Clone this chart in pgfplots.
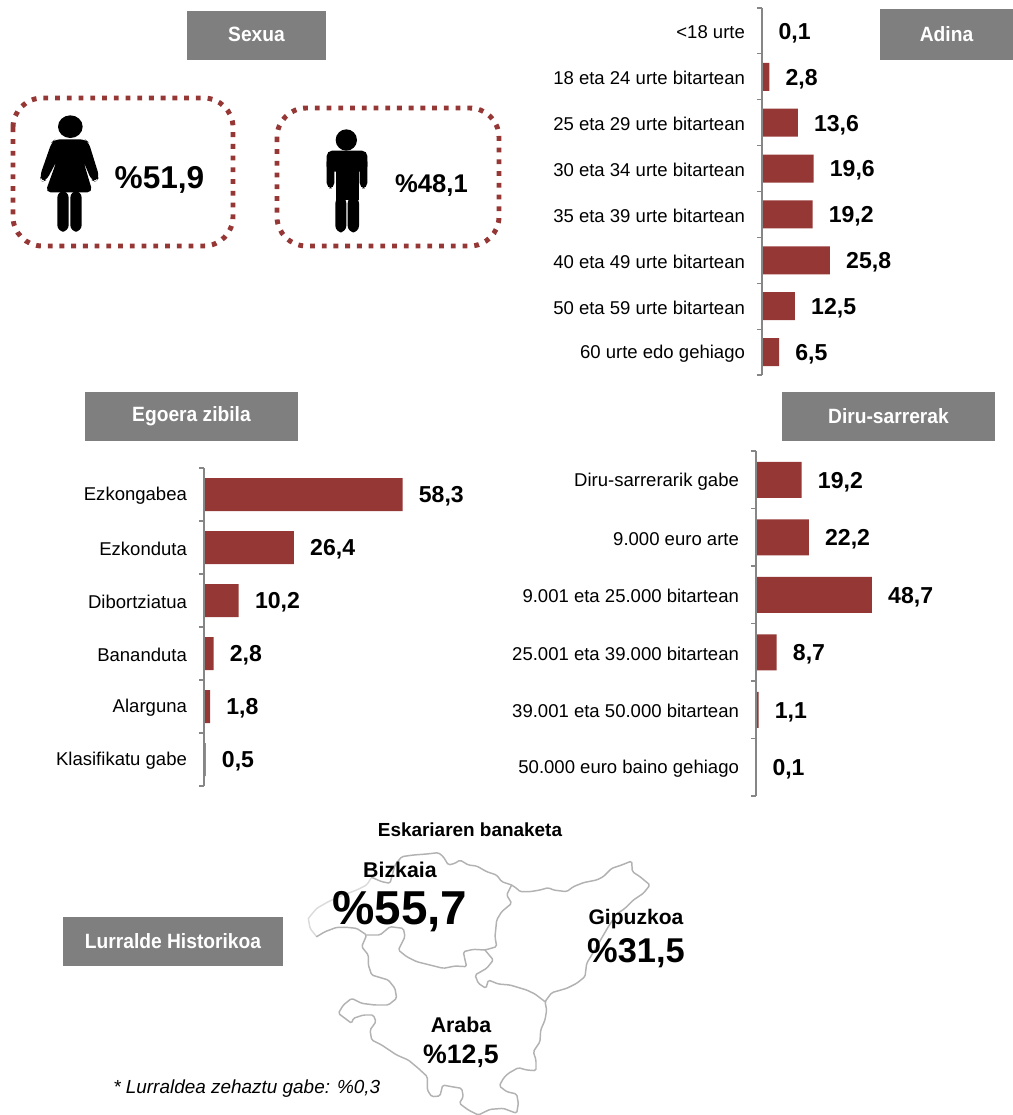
\documentclass[border=0pt]{standalone}
\usepackage{fontspec}
\setmainfont{Liberation Sans}
\usepackage{pgfplots}
\pgfplotsset{compat=1.18}
\definecolor{barred}{HTML}{953735}
\definecolor{boxgray}{HTML}{7F7F7F}
\definecolor{axgray}{HTML}{868686}
\newcommand{\fs}[1]{\fontsize{#1}{#1}\selectfont}
\pgfplotsset{
 /pgf/number format/assume math mode=true,
 hb/.style={
  xbar, bar shift=0pt, scale only axis, clip=false, axis on top,
  y dir=reverse, xmin=0, anchor=north west,
  hide x axis, axis y line*=left,
  y axis line style={axgray,line width=1.1pt,-},
  major tick length=0pt, minor tick length=3.8pt, tick align=outside,
  minor tick style={axgray,line width=0.9pt},
  y tick label style={font=\fs{13.9}, inner sep=0pt, xshift=-12.6pt, yshift=-1.1pt, anchor=east},
  nodes near coords,
  every node near coord/.append style={font=\bfseries\fs{17.3}, black, inner sep=0pt, xshift=12pt, yshift=-1.6pt, anchor=west,
    /pgf/number format/fixed, /pgf/number format/fixed zerofill, /pgf/number format/precision=1, /pgf/number format/use comma},
 }
}
\tikzset{
 dotbox/.style={draw=barred, line width=3.7pt, rounded corners=22pt, dash pattern=on 3.6pt off 5.2pt},
 mapl/.style={draw=black!30, line width=1.1pt, line join=round, line cap=round, rounded corners=1.2pt},
}
\newcommand{\gbox}[5]{% x1 y1 x2 y2 text
 \fill[boxgray] ({#1*0.75pt},{-#2*0.75pt}) rectangle ({#3*0.75pt},{-#4*0.75pt});
 \node[text=white,font=\bfseries\fs{15.5},anchor=center,inner sep=0pt,xscale=0.93] at ({(#1+#3)/2*0.75pt},{-(#2+#4)/2*0.75pt+0.6pt}) {#5};}
\begin{document}
\begin{tikzpicture}
\useasboundingbox (0,0) rectangle (759.75pt,-836.25pt);
% title boxes
\gbox{187}{11}{326}{60}{Sexua}
\gbox{880}{9}{1013}{60}{Adina}
\gbox{85}{392}{298}{441}{Egoera zibila}
\gbox{782}{392}{995}{441}{Diru-sarrerak}
\gbox{63}{917}{283}{966}{Lurralde Historikoa}
% Sexua boxes
\draw[dotbox] ({13*0.75pt},{-98*0.75pt}) rectangle ({233*0.75pt},{-246*0.75pt});
\draw[dotbox] ({277*0.75pt},{-108*0.75pt}) rectangle ({499*0.75pt},{-246*0.75pt});
\begin{scope}[shift={(0,-63.75pt)},x=0.25pt,y=-0.25pt]
 \fill[black] (211,125) ellipse (37 and 34);
 \fill[black,rounded corners=4pt] (165,163) -- (255,163) -- (266,172) -- (298,275) -- (288,291) -- (274,285) -- (250,228) -- (278,322) -- (136,322) -- (170,228) -- (140,285) -- (124,291) -- (120,272) -- (155,172) -- cycle;
 \fill[black,rounded corners=5pt] (172,318) rectangle (206,440);
 \fill[black,rounded corners=5pt] (211,318) rectangle (245,440);
 \fill[black] (1039,165) circle (32);
 \fill[black,rounded corners=4pt] (980,197) rectangle (1102,260);
 \fill[black,rounded corners=4pt] (980,215) rectangle (1003,310);
 \fill[black,rounded corners=4pt] (1079,215) rectangle (1102,310);
 \fill[black] (1007,215) rectangle (1076,345);
 \fill[black,rounded corners=5pt] (1006,335) rectangle (1039,442);
 \fill[black,rounded corners=5pt] (1043,335) rectangle (1077,442);
\end{scope}
\node[font=\bfseries\fs{23.7},inner sep=0pt] at ({159.5*0.75pt},{-180*0.75pt}) {\%51,9};
\node[font=\bfseries\fs{19.2},inner sep=0pt] at ({431.5*0.75pt},{-186*0.75pt}) {\%48,1};
% Adina
\begin{axis}[hb, at={({762*0.75pt},{-8*0.75pt})}, width={250*0.75pt}, height={367*0.75pt},
  xmax=94.9, ymin=-0.5, ymax=7.5, bar width={28*0.75pt},
  ytick={0,...,7}, minor ytick={-0.5,0.5,...,7.5},
  yticklabels={{<18 urte},{18 eta 24 urte bitartean},{25 eta 29 urte bitartean},{30 eta 34 urte bitartean},{35 eta 39 urte bitartean},{40 eta 49 urte bitartean},{50 eta 59 urte bitartean},{60 urte edo gehiago}}]
\addplot[fill=barred,draw=none] coordinates {(0.1,0) (2.8,1) (13.6,2) (19.6,3) (19.2,4) (25.8,5) (12.5,6) (6.5,7)};
\end{axis}
% Egoera zibila
\begin{axis}[hb, at={({204*0.75pt},{-468*0.75pt})}, width={280*0.75pt}, height={318*0.75pt},
  xmax=82.2, ymin=-0.5, ymax=5.5, bar width={33*0.75pt},
  ytick={0,...,5}, minor ytick={-0.5,0.5,...,5.5},
  yticklabels={Ezkongabea,Ezkonduta,Dibortziatua,Bananduta,Alarguna,Klasifikatu gabe}]
\addplot[fill=barred,draw=none] coordinates {(58.3,0) (26.4,1) (10.2,2) (2.8,3) (1.8,4) (0.5,5)};
\end{axis}
% Diru-sarrerak
\begin{axis}[hb, at={({756*0.75pt},{-451*0.75pt})}, width={200*0.75pt}, height={345*0.75pt},
  xmax=84, ymin=-0.5, ymax=5.5, bar width={36*0.75pt},
  ytick={0,...,5}, minor ytick={-0.5,0.5,...,5.5},
  yticklabels={Diru-sarrerarik gabe,9.000 euro arte,9.001 eta 25.000 bitartean,25.001 eta 39.000 bitartean,39.001 eta 50.000 bitartean,50.000 euro baino gehiago}]
\addplot[fill=barred,draw=none] coordinates {(19.2,0) (22.2,1) (48.7,2) (8.7,3) (1.1,4) (0.1,5)};
\end{axis}
% Map outline
\begin{scope}[shift={(225pt,-630pt)},x=0.25pt,y=-0.25pt]
 \draw[mapl,draw=black!14] (25,235) -- (50,205) -- (85,185) -- (130,165) -- (170,150) -- (200,135) -- (215,112);
 \draw[mapl,draw=black!14] (50,290) -- (30,265) -- (25,235);
 \draw[mapl] (215,112) -- (245,125) -- (270,130) -- (285,75) -- (305,50) -- (340,45) -- (380,42) -- (415,38) -- (430,50) -- (445,75) -- (465,70) -- (480,60) -- (505,75) -- (530,78) -- (560,95) -- (590,105) -- (605,125) -- (635,135) -- (650,145) -- (660,155) -- (690,155) -- (720,150) -- (745,143) -- (760,150) -- (800,155) -- (820,140) -- (850,128) -- (890,120) -- (910,110) -- (935,85) -- (965,75) -- (995,63) -- (997,95) -- (1020,110) -- (1050,135) -- (1030,160) -- (1000,180) -- (975,205) -- (950,222) -- (925,260) -- (890,320) -- (860,370) -- (855,410) -- (830,430) -- (800,445) -- (755,458) -- (735,485) -- (740,510) -- (735,540) -- (722,570) -- (720,605) -- (700,635) -- (708,660) -- (708,692) -- (680,690) -- (655,683) -- (625,700) -- (610,715) -- (598,738) -- (620,755) -- (650,762) -- (655,790) -- (650,820) -- (610,805) -- (570,808) -- (535,825) -- (505,810) -- (478,790) -- (490,770) -- (485,745) -- (455,740) -- (428,735) -- (420,768) -- (395,770) -- (382,750) -- (382,710) -- (355,685) -- (325,660) -- (290,645) -- (245,615) -- (215,600) -- (210,570) -- (228,545) -- (220,525) -- (190,525) -- (160,535) -- (155,550) -- (115,520) -- (130,495) -- (155,475) -- (185,490) -- (225,495) -- (265,495) -- (290,475) -- (285,445) -- (265,420) -- (215,405) -- (205,375) -- (205,345) -- (185,320) -- (200,285) -- (170,265) -- (140,262) -- (110,262) -- (75,275) -- (50,290);
 \draw[mapl] (635,135) -- (620,165) -- (635,190) -- (605,215) -- (590,240) -- (585,290) -- (590,320) -- (555,330) -- (520,328) -- (490,335) -- (495,360) -- (500,380) -- (465,378) -- (430,385) -- (390,375) -- (350,365) -- (320,350) -- (295,330) -- (315,290) -- (310,265) -- (270,260) -- (240,285) -- (200,285);
 \draw[mapl] (555,330) -- (580,360) -- (560,385) -- (525,405) -- (535,430) -- (558,445) -- (565,420) -- (595,432) -- (630,435) -- (680,450) -- (705,462) -- (735,485);
\end{scope}
\node[font=\bfseries\fs{14.2},inner sep=0pt] at ({470*0.75pt},{-830*0.75pt}) {Eskariaren banaketa};
\node[font=\bfseries\fs{16},inner sep=0pt] at ({400*0.75pt},{-870*0.75pt}) {Bizkaia};
\node[font=\bfseries\fs{35.7},inner sep=0pt] at ({400*0.75pt},{-912*0.75pt}) {\%55,7};
\node[font=\bfseries\fs{15.8},inner sep=0pt] at ({636*0.75pt},{-919*0.75pt}) {Gipuzkoa};
\node[font=\bfseries\fs{25.8},inner sep=0pt] at ({636*0.75pt},{-953*0.75pt}) {\%31,5};
\node[font=\bfseries\fs{16},inner sep=0pt] at ({461*0.75pt},{-1025*0.75pt}) {Araba};
\node[font=\bfseries\fs{20},inner sep=0pt] at ({461*0.75pt},{-1056*0.75pt}) {\%12,5};
\node[font=\itshape\fs{14.2},inner sep=0pt,anchor=west] at ({113*0.75pt},{-1089*0.75pt}) {* Lurraldea zehaztu gabe: \%0,3};
\end{tikzpicture}
\end{document}
